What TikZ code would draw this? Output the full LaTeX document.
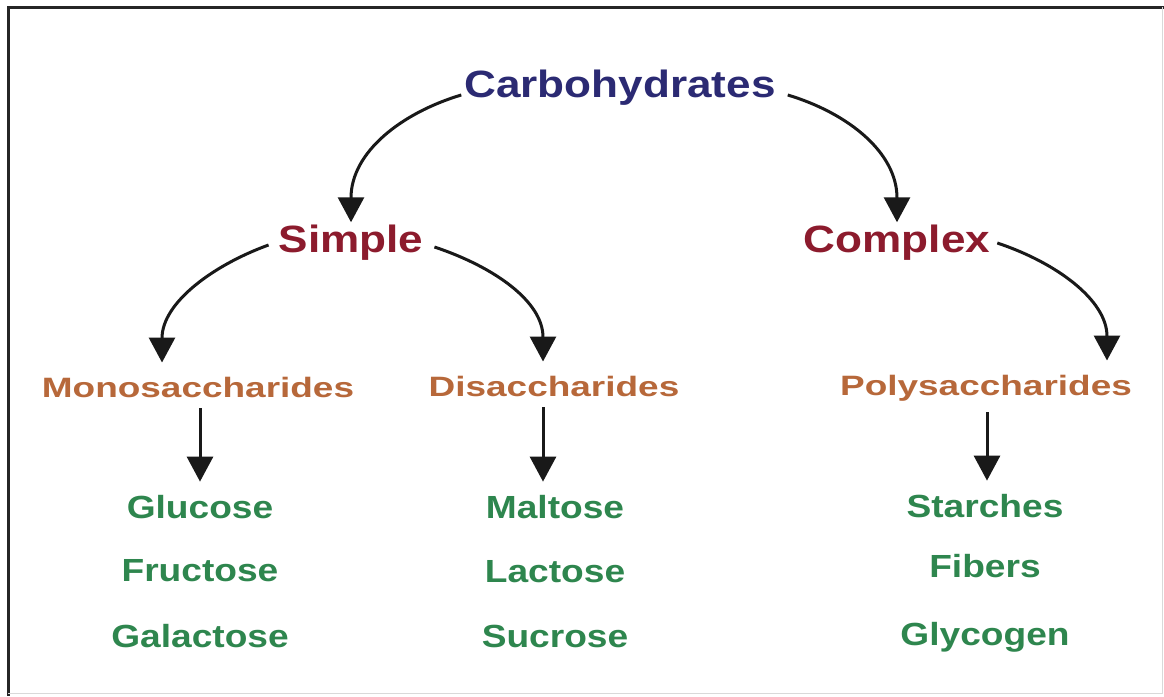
\documentclass[tikz,border=0pt]{standalone}
\usepackage{fontspec}
\setmainfont{Liberation Sans}
\newfontfamily\fA{Liberation Sans}[FakeStretch=1.16]
\newfontfamily\fB{Liberation Sans}[FakeStretch=1.32]
\newfontfamily\fC{Liberation Sans}[FakeStretch=1.16]
\usetikzlibrary{arrows.meta,calc}
\definecolor{cNavy}{RGB}{43,42,115}
\definecolor{cRed}{RGB}{140,27,45}
\definecolor{cOrange}{RGB}{183,104,58}
\definecolor{cGreen}{RGB}{46,134,78}
\begin{document}
\begin{tikzpicture}[x=1pt,y=-1pt,
  lvlA/.style={anchor=base, inner sep=2pt, font=\fA\bfseries\fontsize{38}{40}\selectfont},
  lvlB/.style={anchor=base, inner sep=2pt, text=cOrange, font=\fB\bfseries\fontsize{28}{30}\selectfont},
  lvlC/.style={anchor=base, inner sep=2pt, text=cGreen, font=\fC\bfseries\fontsize{32}{34}\selectfont},
  arr/.style={line width=3pt, black!90, -{Triangle[width=26pt,length=25pt]}}]
\useasboundingbox (0,0) rectangle (1164,696);
\fill[white] (0,0) rectangle (1164,696);
% frame
\draw[line width=3pt, black!85] (8,696) -- (8,7) -- (1164,7);
\draw[line width=1pt, black!15] (1162,7) -- (1162,693) -- (8,693);
% nodes
\node[lvlA, text=cNavy] (carb) at (620,97) {Carbohydrates};
\node[lvlA, text=cRed] (simple) at (351,252) {Simple};
\node[lvlA, text=cRed] (complex) at (897,252) {Complex};
\node[lvlB] (mono) at (198,397) {Monosaccharides};
\node[lvlB] (di) at (554,396) {Disaccharides};
\node[lvlB] (poly) at (986,395) {Polysaccharides};
\node[lvlC] (glu) at (200,518) {Glucose};
\node[lvlC] (fru) at (200,581) {Fructose};
\node[lvlC] (gal) at (200,647) {Galactose};
\node[lvlC] (mal) at (555,518) {Maltose};
\node[lvlC] (lac) at (555,582) {Lactose};
\node[lvlC] (suc) at (555,647) {Sucrose};
\node[lvlC] (sta) at (985,517) {Starches};
\node[lvlC] (fib) at (985,577) {Fibers};
\node[lvlC] (gly) at (985,645) {Glycogen};
% curved connectors
\draw[arr] ([xshift=-1pt,yshift=2pt]carb.base west) .. controls +(-60,18) and +(0,-70) .. (simple.north);
\draw[arr] ([xshift=10pt,yshift=2pt]carb.base east) .. controls +(60,18) and +(0,-70) .. (complex.north);
\draw[arr] ([xshift=-8pt,yshift=7pt]simple.base west) .. controls +(-55,20) and +(0,-60) .. ([xshift=-36pt,yshift=12pt]mono.north);
\draw[arr] ([xshift=9pt,yshift=5pt]simple.base east) .. controls +(60,20) and +(0,-60) .. ([xshift=-11pt,yshift=12pt]di.north);
\draw[arr] ([xshift=5pt,yshift=9pt]complex.base east) .. controls +(60,20) and +(0,-60) .. ([xshift=121pt,yshift=12pt]poly.north);
% straight connectors
\draw[arr] ([yshift=-9pt]mono.south -| glu.north) -- ([yshift=11pt]glu.north);
\draw[arr] ([xshift=-12pt,yshift=-9pt]di.south -| mal.north) -- ([xshift=-12pt,yshift=11pt]mal.north);
\draw[arr] ([xshift=2pt,yshift=-9pt]poly.south -| sta.north) -- ([xshift=2pt,yshift=11pt]sta.north);
\end{tikzpicture}
\end{document}
